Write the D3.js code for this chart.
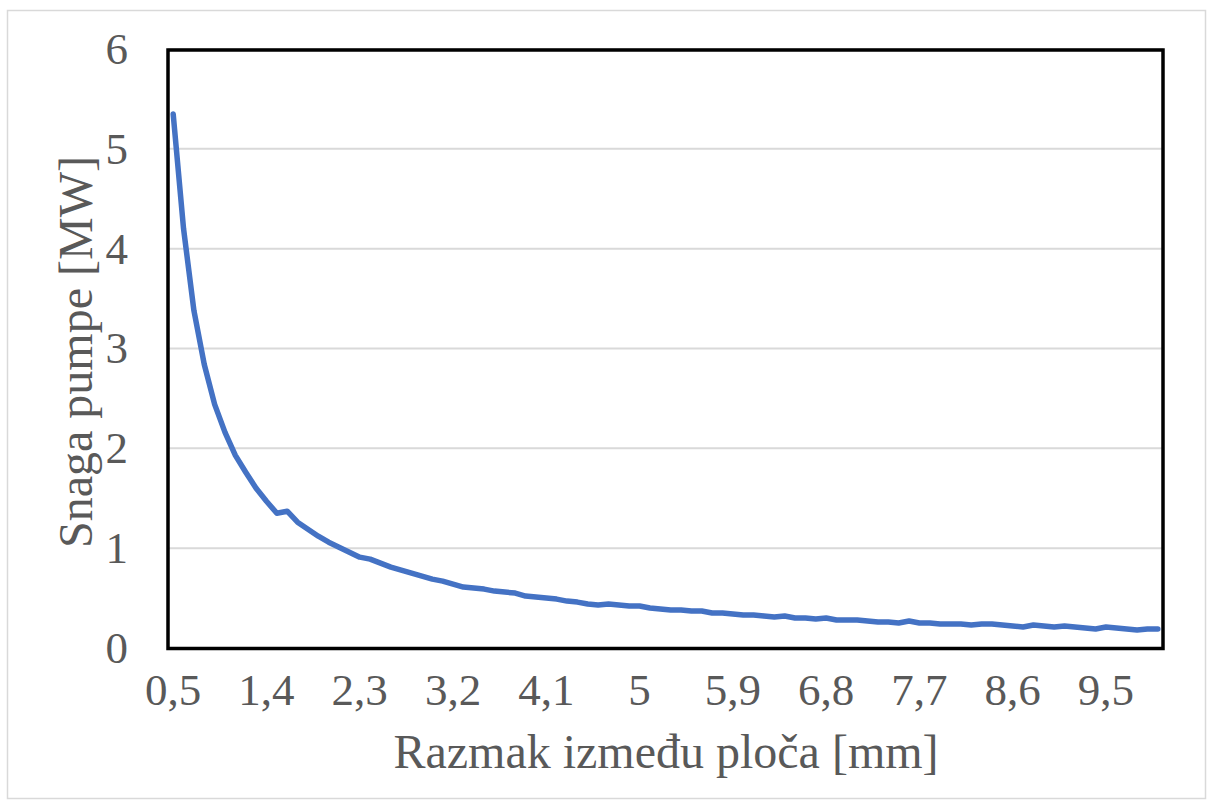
<!DOCTYPE html>
<html><head><meta charset="utf-8">
<script src="https://cdn.jsdelivr.net/npm/d3@7"></script>
<style>body{margin:0;background:#fff}svg{display:block}</style>
</head><body>
<svg id="c" width="1213" height="807"></svg>
<script>
const categories = [0.5,0.6,0.7,0.8,0.9,1.0,1.1,1.2,1.3,1.4,1.5,1.6,1.7,1.8,1.9,2.0,2.1,2.2,2.3,2.4,2.5,2.6,2.7,2.8,2.9,3.0,3.1,3.2,3.3,3.4,3.5,3.6,3.7,3.8,3.9,4.0,4.1,4.2,4.3,4.4,4.5,4.6,4.7,4.8,4.9,5.0,5.1,5.2,5.3,5.4,5.5,5.6,5.7,5.8,5.9,6.0,6.1,6.2,6.3,6.4,6.5,6.6,6.7,6.8,6.9,7.0,7.1,7.2,7.3,7.4,7.5,7.6,7.7,7.8,7.9,8.0,8.1,8.2,8.3,8.4,8.5,8.6,8.7,8.8,8.9,9.0,9.1,9.2,9.3,9.4,9.5,9.6,9.7,9.8,9.9,10.0];
const snagaPumpe = [5.35,4.2,3.38,2.84,2.44,2.16,1.93,1.76,1.6,1.47,1.35,1.37,1.26,1.19,1.12,1.06,1.01,0.96,0.91,0.89,0.85,0.81,0.78,0.75,0.72,0.69,0.67,0.64,0.61,0.60,0.59,0.57,0.56,0.55,0.52,0.51,0.50,0.49,0.47,0.46,0.44,0.43,0.44,0.43,0.42,0.42,0.40,0.39,0.38,0.38,0.37,0.37,0.35,0.35,0.34,0.33,0.33,0.32,0.31,0.32,0.30,0.30,0.29,0.30,0.28,0.28,0.28,0.27,0.26,0.26,0.25,0.27,0.25,0.25,0.24,0.24,0.24,0.23,0.24,0.24,0.23,0.22,0.21,0.23,0.22,0.21,0.22,0.21,0.20,0.19,0.21,0.20,0.19,0.18,0.19,0.19];
const yTicks = [0,1,2,3,4,5,6];
const xLabelStep = 9;
const xTitle = "Razmak između ploča [mm]";
const yTitle = "Snaga pumpe [MW]";

const svg = d3.select("#c");
const L = 168, R = 1163, T = 49, B = 648;
const font = "'Liberation Serif','Times New Roman',serif";
const grey = "#595959";

svg.append("rect").attr("x",7.5).attr("y",10.5).attr("width",1198).attr("height",788)
  .attr("fill","#fff").attr("stroke","#d9d9d9").attr("stroke-width",1.5);

const x = d3.scaleBand().domain(categories.map(String)).range([L,R]).paddingInner(0).paddingOuter(0);
const y = d3.scaleLinear().domain([0,6]).range([B,T]);

// gridlines
svg.append("g").selectAll("line").data(yTicks).join("line")
  .attr("x1",L).attr("x2",R).attr("y1",d=>y(d)).attr("y2",d=>y(d))
  .attr("stroke","#d9d9d9").attr("stroke-width",2);

// y axis labels
const yAxis = d3.axisLeft(y).tickValues(yTicks).tickSize(0).tickPadding(0).tickFormat(d=>String(d));
const gy = svg.append("g").attr("transform",`translate(${128},0)`).call(yAxis);
gy.select(".domain").remove();
gy.selectAll("text").attr("font-family",font).attr("font-size",45).attr("fill",grey);

// x axis labels
const fmt = v => String(v).replace(".",",");
const xAxis = d3.axisBottom(x).tickValues(categories.filter((c,i)=>i%xLabelStep===0).map(String))
  .tickSize(0).tickPadding(0).tickFormat(d=>fmt(+d));
const gx = svg.append("g").attr("transform",`translate(0,${673})`).call(xAxis);
gx.select(".domain").remove();
gx.selectAll("text").attr("font-family",font).attr("font-size",45).attr("fill",grey).attr("dy","0.71em");

// line
const line = d3.line().x((d,i)=>x(String(categories[i]))+x.bandwidth()/2).y(d=>y(d));
svg.append("path").datum(snagaPumpe).attr("d",line).attr("fill","none")
  .attr("stroke","#4472C4").attr("stroke-width",5.5).attr("stroke-linejoin","round").attr("stroke-linecap","round");

// plot border
svg.append("rect").attr("x",L).attr("y",T+1).attr("width",R-L).attr("height",B-T-0.5)
  .attr("fill","none").attr("stroke","#000").attr("stroke-width",3.5);

// titles
svg.append("text").attr("x",666).attr("y",768).attr("text-anchor","middle")
  .attr("font-family",font).attr("font-size",48).attr("fill",grey).text(xTitle);
svg.append("text").attr("transform",`translate(92,352) rotate(-90)`).attr("text-anchor","middle")
  .attr("font-family",font).attr("font-size",48).attr("fill",grey).text(yTitle);
</script>
</body></html>
